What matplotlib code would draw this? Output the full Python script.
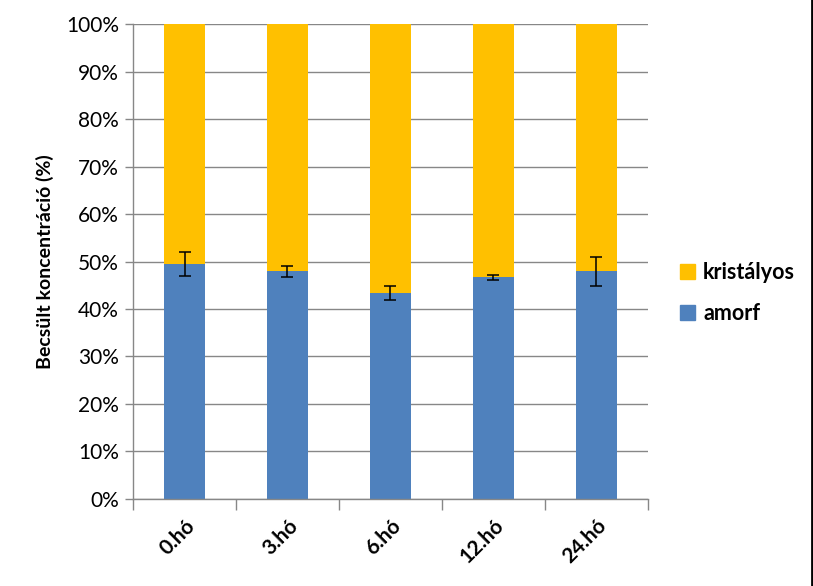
import matplotlib
matplotlib.use('Agg')
import matplotlib.pyplot as plt
import matplotlib.patches as patches
from matplotlib.lines import Line2D
import numpy as np

plt.rcParams['font.family'] = ['Lato', 'DejaVu Sans']

# Data
categories = ['0.hó', '3.hó', '6.hó', '12.hó', '24.hó']
amorf = [49.4, 47.9, 43.3, 46.7, 47.9]
amorf_err = [2.5, 1.1, 1.5, 0.5, 3.0]
kristalyos = [100 - a for a in amorf]

blue = '#4F81BD'
yellow = '#FFC000'
grid_col = '#878787'

fig = plt.figure(figsize=(8.13, 5.86), dpi=100)
ax = fig.add_axes([0.1636, 0.1485, 0.797 - 0.1636, 0.959 - 0.1485])

x = np.arange(len(categories))
ax.bar(x, amorf, width=0.4, color=blue, zorder=2)
ax.bar(x, kristalyos, width=0.4, bottom=amorf, color=yellow, zorder=2)
ax.errorbar(x, amorf, yerr=amorf_err, fmt='none', ecolor='black',
            elinewidth=1.1, capsize=4.5, capthick=1.1, zorder=3)

ax.set_xlim(-0.5, len(categories) - 0.5)
ax.set_ylim(0, 100)
ax.set_yticks(np.arange(0, 101, 10))
ax.set_yticklabels([f'{v}%' for v in range(0, 101, 10)], fontsize=15)
ax.yaxis.grid(True, color=grid_col, lw=1, zorder=0)
ax.set_axisbelow(True)

# category boundary ticks on x
ax.set_xticks(np.arange(-0.5, len(categories), 1))
ax.set_xticklabels([])
ax.set_xticks(x, minor=True)
ax.set_xticklabels(categories, minor=True, rotation=45, ha='right',
                   rotation_mode='anchor', fontsize=15, fontweight='bold')
ax.tick_params(axis='x', which='minor', length=0, pad=12)
ax.tick_params(axis='x', which='major', length=8, color=grid_col, width=1)
ax.tick_params(axis='y', length=6, color=grid_col, width=1, pad=4)

for s in ['top', 'right']:
    ax.spines[s].set_visible(False)
for s in ['left', 'bottom']:
    ax.spines[s].set_color(grid_col)
    ax.spines[s].set_linewidth(1)

ax.set_ylabel('Becsült koncentráció (%)', fontsize=14, fontweight='bold', labelpad=9)

handles = [patches.Patch(color=yellow), patches.Patch(color=blue)]
fig.legend(handles, ['kristályos', 'amorf'], loc='center left',
           bbox_to_anchor=(0.812, 0.5), frameon=False,
           prop={'size': 15.5, 'weight': 'bold'}, handlelength=0.7,
           handleheight=0.7, handletextpad=0.4, labelspacing=0.9)

fig.add_artist(Line2D([0.9985, 0.9985], [0, 1], transform=fig.transFigure,
                      color='black', lw=2))

fig.savefig('out.png', dpi=100)
